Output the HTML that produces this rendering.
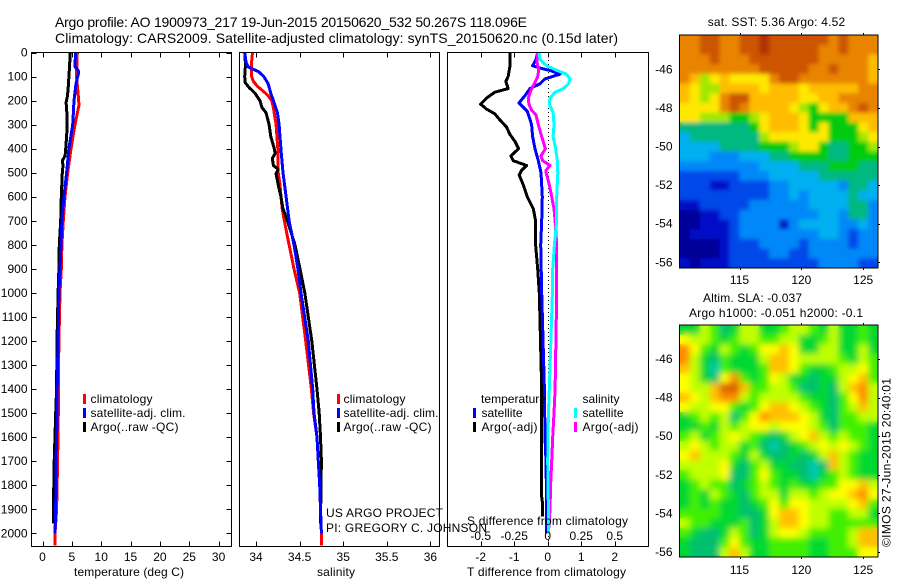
<!DOCTYPE html>
<html lang="en">
<head>
<meta charset="utf-8">
<title>Argo profile 1900973_217</title>
<style>
html,body{margin:0;padding:0;background:#fff;}
#fig{display:block;width:900px;height:580px;}
text{font-family:"Liberation Sans",Arial,sans-serif;font-size:12px;fill:#000;}
.title{font-size:14px;}
</style>
</head>
<body>
<svg id="fig" xmlns="http://www.w3.org/2000/svg" width="900" height="580" viewBox="0 0 900 580">
<rect x="0" y="0" width="900" height="580" fill="#fff"/>
<defs>
<clipPath id="clip-t"><rect x="32" y="52" width="199" height="494"/></clipPath>
<clipPath id="clip-s"><rect x="239" y="52" width="200" height="494"/></clipPath>
<clipPath id="clip-d"><rect x="448" y="52" width="200" height="494"/></clipPath>
<clipPath id="clip-m1"><rect x="680" y="35" width="198" height="233"/></clipPath>
<clipPath id="clip-m2"><rect x="680" y="325" width="198" height="232"/></clipPath>
<filter id="blur-a" x="-5%" y="-5%" width="110%" height="110%"><feGaussianBlur stdDeviation="2"/></filter>
<filter id="blur-b" x="-5%" y="-5%" width="110%" height="110%"><feGaussianBlur stdDeviation="3.2"/></filter>
</defs>
<text class="title" x="55" y="27" textLength="472">Argo profile: AO 1900973_217 19-Jun-2015 20150620_532 50.267S 118.096E</text>
<text class="title" x="55" y="43" textLength="563">Climatology: CARS2009. Satellite-adjusted climatology: synTS_20150620.nc (0.15d later)</text>
<g id="layer"></g>
<g>
<rect x="83" y="394" width="3" height="10" fill="#f00"/>
<text x="90.5" y="403" textLength="62">climatology</text>
<rect x="83" y="408" width="3" height="10" fill="#00f"/>
<text x="90.5" y="417" textLength="95">satellite-adj. clim.</text>
<rect x="83" y="422" width="3" height="10" fill="#000"/>
<text x="90.5" y="431" textLength="88">Argo(..raw -QC)</text>
</g>
<g>
<rect x="337" y="394" width="3" height="10" fill="#f00"/>
<text x="343.5" y="403" textLength="62">climatology</text>
<rect x="337" y="408" width="3" height="10" fill="#00f"/>
<text x="343.5" y="417" textLength="95">satellite-adj. clim.</text>
<rect x="337" y="422" width="3" height="10" fill="#000"/>
<text x="343.5" y="431" textLength="88">Argo(..raw -QC)</text>
</g>
<g>
<text x="481" y="403" textLength="65">temperature</text>
<rect x="473" y="408" width="3" height="10" fill="#00f"/>
<text x="481.5" y="417" textLength="41">satellite</text>
<rect x="473" y="422" width="3" height="10" fill="#000"/>
<text x="481.5" y="431" textLength="56">Argo(-adj)</text>
<text x="582.5" y="403" textLength="37">salinity</text>
<rect x="574" y="408" width="3" height="10" fill="#0ff"/>
<text x="582.5" y="417" textLength="41">satellite</text>
<rect x="574" y="422" width="3" height="10" fill="#f0f"/>
<text x="582.5" y="431" textLength="56">Argo(-adj)</text>
</g>
<text x="326" y="517" textLength="117">US ARGO PROJECT</text>
<text x="326" y="532" textLength="161">PI: GREGORY C. JOHNSON</text>
<text x="74" y="576" textLength="110">temperature (deg C)</text>
<text x="317" y="576" textLength="38">salinity</text>
<text x="467" y="576" textLength="159">T difference from climatology</text>
<text x="467" y="525" textLength="161">S difference from climatology</text>
<text x="707.7" y="26" textLength="137.5">sat. SST: 5.36 Argo: 4.52</text>
<text x="703" y="302" textLength="99">Altim. SLA: -0.037</text>
<text x="689" y="317" textLength="174">Argo h1000: -0.051 h2000: -0.1</text>
<text transform="translate(890.5,547) rotate(-90)" textLength="169">©IMOS 27-Jun-2015 20:40:01</text>
</svg>
<script>
// ---- axis ticks
const depthTicks = [0,100,200,300,400,500,600,700,800,900,1000,1100,1200,1300,1400,1500,1600,1700,1800,1900,2000];
const tempTicks = [0,5,10,15,20,25,30];
const salTicks = [34,34.5,35,35.5,36];
const tDiffTicks = [-2,-1,0,1,2];
const sDiffTicks = [-0.5,-0.25,0,0.25,0.5];
const sDiffTickLabels = ['-0.5','-0.25','0','0.25','0.5'];
const lonTicks = [115,120,125];
const latTicks = [-46,-48,-50,-52,-54,-56];

// ---- temperature profiles
const tempClimDepth = [0,100,200,220,300,400,500,600,700,800,900,1000,1200,1400,1500,1700,1900,2000,2050];
const tempClim = [5.93,5.8,6.16,6.2,5.54,4.85,4.29,3.83,3.55,3.3,3.2,2.98,2.8,2.7,2.7,2.58,2.4,2.13,2.13];
const tempArgoDepth = [0,60,140,180,210,225,300,350,400,430,450,470,500,600,700,800,900,1000,1200,1400,1500,1700,1900,1960];
const tempArgo = [4.74,4.6,4.4,4.26,4.0,4.1,4.2,4.1,3.95,3.85,3.37,3.5,3.37,3.2,3.1,2.86,2.8,2.65,2.47,2.4,2.25,2.0,1.85,1.85];
const tempSatDepth = [0,60,75,90,130,200,300,400,500,600,700,800,900,1000,1400,1500,1700,1900,2000];
const tempSat = [5.6,5.55,6.1,6.1,5.7,5.37,5.14,4.5,4.1,3.66,3.3,3.15,2.98,2.8,2.5,2.5,2.3,2.25,2.13];

// ---- salinity profiles
const salClimDepth = [0,40,60,100,120,140,160,180,200,230,300,400,450,500,550,600,650,700,800,900,1000,1200,1400,1500,1600,1700,1800,1900,2000,2050];
const salClim = [33.96,33.95,33.95,33.95,33.97,34.015,34.08,34.14,34.18,34.2,34.23,34.25,34.25,34.255,34.275,34.287,34.3,34.325,34.38,34.436,34.5,34.57,34.635,34.66,34.7,34.715,34.73,34.74,34.75,34.75];
const salArgoDepth = [0,50,100,125,145,170,200,230,250,300,350,400,420,440,470,485,505,550,600,650,700,800,900,1000,1200,1400,1500,1600,1700,1800,1960];
const salArgo = [33.87,33.88,33.87,33.875,33.92,33.99,34.045,34.07,34.115,34.15,34.17,34.21,34.22,34.187,34.2,34.255,34.23,34.255,34.285,34.31,34.36,34.447,34.505,34.56,34.64,34.7,34.725,34.74,34.75,34.745,34.74];
const salSatDepth = [0,40,60,70,80,100,130,170,200,250,300,400,500,600,700,800,900,1000,1200,1400,1500,1600,1700,1800,1900,2000];
const salSat = [33.87,33.885,33.91,33.97,34.03,34.09,34.14,34.17,34.2,34.245,34.265,34.285,34.31,34.345,34.38,34.436,34.48,34.516,34.6,34.65,34.665,34.7,34.715,34.73,34.74,34.75];

// ---- differences from climatology
const tDiffArgoDepth = [0,60,100,120,150,165,190,215,235,255,280,310,340,370,400,430,450,470,490,510,550,600,650,700,800,900,1000,1400,1500,1700,1850,1880,1930];
const tDiffArgo = [-1.12,-1.13,-1.18,-1.25,-1.18,-1.58,-1.83,-2.0,-1.83,-1.58,-1.43,-1.23,-1.13,-0.98,-0.87,-1.1,-1.03,-0.63,-0.78,-0.85,-0.73,-0.61,-0.43,-0.36,-0.36,-0.3,-0.25,-0.18,-0.18,-0.18,-0.18,-0.15,-0.15];
const tDiffSatDepth = [0,30,55,65,75,90,110,130,150,180,210,245,300,350,400,450,500,600,700,800,1000,1400,1600,1700,1900,2000];
const tDiffSat = [-0.3,-0.35,-0.45,-0.23,0.07,0.37,-0.08,-0.23,-0.53,-0.68,-0.86,-0.61,-0.48,-0.45,-0.38,-0.28,-0.2,-0.16,-0.18,-0.21,-0.18,-0.1,-0.08,-0.05,-0.03,-0.03];
const sDiffArgoDepth = [0,40,75,100,125,150,190,215,240,260,300,350,400,430,450,470,490,500,550,600,650,700,800,1000,1400,1500,1600,1700,1800,1900,2000];
const sDiffArgo = [-0.075,-0.08,-0.067,-0.075,-0.095,-0.12,-0.145,-0.14,-0.12,-0.087,-0.07,-0.045,-0.017,-0.05,-0.037,0.017,-0.012,-0.012,0.012,0.03,0.047,0.055,0.067,0.067,0.055,0.047,0.037,0.03,0.022,0.017,0.005];
const sDiffSatDepth = [0,30,55,75,90,110,130,150,165,190,215,250,300,350,400,450,500,600,700,800,900,1000,1400,1500,1700,1900,2000];
const sDiffSat = [-0.065,-0.057,-0.01,0.07,0.14,0.167,0.155,0.117,0.055,0.017,0.012,0.04,0.047,0.04,0.06,0.072,0.075,0.067,0.067,0.05,0.037,0.035,0.012,0.005,0,0.005,0.005];

// ---- SST map cells (colour class per cell, north to south)
const sstGrid = [
[10,10,11,11,10,10,11,11,12,11,11,11,11,11,11,10,11,10,10,10],
[10,10,11,11,10,10,11,11,12,11,11,11,11,11,10,10,11,10,10,10],
[10,10,10,11,10,10,10,11,11,11,11,11,11,11,10,10,10,10,10,9],
[10,10,10,10,10,10,10,10,11,11,11,11,11,10,10,11,10,10,10,9],
[10,9,7,8,9,8,8,8,8,10,11,11,10,10,10,10,10,10,10,9],
[9,8,7,7,9,9,9,9,8,9,9,9,8,9,9,9,9,9,10,10],
[9,8,7,8,10,11,11,9,9,9,9,9,8,8,9,9,10,10,10,10],
[8,8,8,8,10,11,10,9,9,9,9,8,7,6,8,9,9,10,11,10],
[8,8,7,7,7,6,6,7,8,9,9,9,8,6,6,6,6,9,9,9],
[5,5,5,5,5,5,5,6,8,9,9,9,8,6,8,6,6,6,8,9],
[4,5,5,5,5,5,5,5,7,8,8,8,8,8,8,6,6,6,7,8],
[4,4,4,4,5,5,5,5,6,6,6,7,8,8,6,5,5,6,6,7],
[4,4,4,3,3,3,4,4,4,5,5,6,6,6,6,5,5,6,6,6],
[3,3,3,3,3,3,3,3,4,4,4,4,5,5,5,6,6,6,5,5],
[2,2,2,2,2,2,3,3,3,4,4,4,4,4,5,5,5,5,5,5],
[2,2,2,1,1,2,2,2,2,3,3,4,4,4,4,4,3,5,5,4],
[2,2,2,2,2,2,2,2,2,3,3,4,3,4,4,4,4,5,4,4],
[1,1,2,2,2,2,2,3,3,3,3,3,3,4,4,4,4,5,5,3],
[0,0,1,1,2,2,3,3,3,3,3,3,3,3,4,4,3,5,5,3],
[0,0,1,1,1,2,3,3,3,3,1,3,4,4,4,4,3,3,4,3],
[0,1,1,1,1,2,3,3,3,3,3,3,3,3,4,4,3,2,3,3],
[0,0,0,0,1,2,2,2,3,3,3,3,2,3,3,3,3,2,3,3],
[0,0,0,0,1,2,2,2,2,3,3,2,2,3,3,3,3,3,3,3],
[1,0,1,1,1,2,2,2,2,2,2,2,2,2,3,3,3,3,2,2]
];
const sstColors = ['#000098','#0010c8','#0048e8','#0088f8','#00b0f0','#00b880','#00cc10','#a0e800','#ffe800','#ffbc00','#e88400','#cc5400','#b03000'];

// ---- SLA map cells (colour class per cell, north to south)
const slaGrid = [
[2,2,4,3,1,2,4,4,2,2,3,4,4,3,2,4,2,2,3,2],
[5,4,4,3,2,3,4,4,3,3,4,4,2,2,3,4,2,2,3,2],
[7,5,3,2,4,3,2,3,5,5,6,5,2,2,4,4,2,2,4,2],
[7,4,2,1,3,2,2,2,4,6,6,5,4,4,4,4,3,2,4,3],
[6,4,2,0,3,2,2,2,3,6,6,5,3,2,2,3,4,4,5,3],
[5,4,2,1,5,7,3,2,3,5,4,2,2,1,2,2,4,5,6,3],
[5,4,4,6,8,8,6,3,3,4,4,3,1,1,2,1,4,6,7,4],
[6,5,4,6,7,7,4,3,4,4,4,4,3,2,2,1,3,5,7,4],
[5,4,4,5,5,3,2,3,5,6,6,5,4,3,2,1,3,4,6,4],
[2,3,4,3,4,1,3,5,7,6,6,6,5,4,2,1,3,3,4,4],
[2,2,3,2,4,3,4,5,5,4,5,5,5,4,3,1,3,3,3,2],
[3,4,2,3,4,5,4,3,2,1,2,4,5,6,4,3,4,3,3,2],
[4,5,4,3,4,4,2,3,1,0,1,2,3,4,5,4,5,4,3,2],
[5,6,4,4,4,3,2,4,2,1,1,2,1,2,4,6,4,3,2,2],
[4,4,4,4,5,2,1,3,4,2,2,1,1,0,1,6,4,3,2,2],
[3,4,4,4,5,1,1,3,5,3,2,2,1,0,2,3,4,3,2,2],
[2,3,4,3,3,1,2,3,4,3,2,3,2,2,3,3,5,5,6,4],
[2,3,2,4,3,2,1,3,4,4,2,4,4,3,4,5,5,6,7,5],
[2,3,2,3,2,2,1,2,3,5,3,5,5,4,4,4,4,5,6,3],
[3,3,3,3,2,2,1,1,2,5,6,6,5,4,4,3,3,4,4,2],
[4,3,3,2,2,2,3,1,2,4,6,6,5,4,4,3,3,3,3,3],
[3,2,1,1,2,4,3,1,2,4,5,5,4,3,3,3,3,4,6,6],
[2,1,1,1,3,5,3,2,2,3,3,3,3,2,2,3,3,4,6,6],
[2,1,1,1,4,6,4,2,2,3,3,3,3,2,2,3,3,3,5,5]
];
const slaColors = ['#00c8b0','#00c070','#00d830','#40f000','#c0ff00','#ffff00','#ffc000','#ff8c00','#d86000'];

const NS = 'http://www.w3.org/2000/svg';
const layer = document.getElementById('layer');

function make(tag, attrs, parent) {
  const el = document.createElementNS(NS, tag);
  for (const k in attrs) el.setAttribute(k, attrs[k]);
  (parent || layer).appendChild(el);
  return el;
}

// axis functions
function yDepth(d) { return 52.5 + 0.2404 * d; }
function xTemp(v) { return 42.5 + 5.87 * v; }
function xSal(v) { return 256 + 87.2 * (v - 34); }
function xTDiff(v) { return 547.7 + 33.5 * v; }
function xSDiff(v) { return 547.7 + 134 * v; }
function xLon(v) { return 739.5 + 12.37 * (v - 115); }
function yLat1(v) { return 69.3 + 19.3 * (-46 - v); }
function yLat2(v) { return 359 + 19.3 * (-46 - v); }

function drawProfile(depths, values, xFn, color, width, clip, name) {
  const pts = depths.map(function (d, i) { return xFn(values[i]).toFixed(1) + ',' + yDepth(d).toFixed(1); }).join(' ');
  const line = make('polyline', {points: pts, fill: 'none', stroke: color, 'stroke-width': width, 'stroke-linejoin': 'round', 'shape-rendering': 'crispEdges', 'clip-path': 'url(#' + clip + ')'});
  
  
}

function drawFrame(x0, x1, y0, y1, name) {
  const r = make('rect', {x: x0, y: y0, width: x1 - x0, height: y1 - y0, fill: 'none', stroke: '#000', 'stroke-width': 1, 'shape-rendering': 'crispEdges'});
  
  
}

function tick(x1, y1, x2, y2) {
  const t = make('line', {x1: x1, y1: y1, x2: x2, y2: y2, stroke: '#000', 'stroke-width': 1, 'shape-rendering': 'crispEdges'});
  
  
}

function label(x, y, txt, anchor) {
  const t = make('text', {x: x, y: y, 'text-anchor': anchor});
  t.textContent = txt;
  
  
}

function xAxis(ticks, labels, xFn, baseline, top, bottom) {
  ticks.forEach(function (v, i) {
    const x = Math.round(xFn(v)) + 0.5;
    tick(x, top, x, top + 5);
    tick(x, bottom, x, bottom - 5);
    label(xFn(v), baseline, labels[i], 'middle');
  });
}

function drawMap(grid, colors, x0, x1, y0, y1, clip, blur, id, name) {
  const g = make('g', {'clip-path': 'url(#' + clip + ')'});
  
  
  const cells = make('g', {id: id}, g);
  const rows = grid.length, cols = grid[0].length;
  const w = (x1 - x0) / cols, h = (y1 - y0) / rows;
  grid.forEach(function (row, r) {
    row.forEach(function (v, c) {
      const cell = make('rect', {x: (x0 + c * w).toFixed(2), y: (y0 + r * h).toFixed(2), width: (w + 0.5).toFixed(2), height: (h + 0.5).toFixed(2), fill: colors[v]}, cells);
      
      
    });
  });
  make('use', {href: '#' + id, filter: 'url(#' + blur + ')'}, g);
}

function drawMapAxes(x0, x1, y0, y1, yFn, xBaseline) {
  lonTicks.forEach(function (v) {
    const x = Math.round(xLon(v)) + 0.5;
    tick(x, y0 - 2, x, y0);
    tick(x, y1, x, y1 + 2);
    label(xLon(v), xBaseline, String(v), 'middle');
  });
  latTicks.forEach(function (v) {
    const y = Math.round(yFn(v)) + 0.5;
    tick(x1, y, x1 + 2, y);
    label(672.5, yFn(v) + 4, String(v), 'end');
  });
}

// temperature panel
drawProfile(tempClimDepth, tempClim, xTemp, '#f00', 3, 'clip-t', 'temperature-climatology-line');
drawProfile(tempArgoDepth, tempArgo, xTemp, '#000', 3, 'clip-t', 'temperature-argo-line');
drawProfile(tempSatDepth, tempSat, xTemp, '#00f', 3, 'clip-t', 'temperature-satellite-line');
drawFrame(31.5, 231.5, 52.5, 546.5, 'temperature-panel-frame');
depthTicks.forEach(function (d) {
  const y = Math.round(yDepth(d)) + 0.5;
  tick(31.5, y, 36.5, y);
  tick(226.5, y, 231.5, y);
  label(27.5, yDepth(d) + 4, String(d), 'end');
});
xAxis(tempTicks, tempTicks.map(String), xTemp, 561, 52.5, 546.5);

// salinity panel
drawProfile(salClimDepth, salClim, xSal, '#f00', 3, 'clip-s', 'salinity-climatology-line');
drawProfile(salArgoDepth, salArgo, xSal, '#000', 3, 'clip-s', 'salinity-argo-line');
drawProfile(salSatDepth, salSat, xSal, '#00f', 3, 'clip-s', 'salinity-satellite-line');
drawFrame(239.5, 439.5, 52.5, 546.5, 'salinity-panel-frame');
xAxis(salTicks, salTicks.map(String), xSal, 561, 52.5, 546.5);

// difference panel
const zeroLine = make('line', {x1: 548.5, y1: 52, x2: 548.5, y2: 546, stroke: '#000', 'stroke-width': 1, 'stroke-dasharray': '1 3', 'shape-rendering': 'crispEdges'});


drawProfile(tDiffArgoDepth, tDiffArgo, xTDiff, '#000', 3, 'clip-d', 't-difference-argo-line');
drawProfile(tDiffSatDepth, tDiffSat, xTDiff, '#00f', 3, 'clip-d', 't-difference-satellite-line');
drawProfile(sDiffArgoDepth, sDiffArgo, xSDiff, '#f0f', 3, 'clip-d', 's-difference-argo-line');
drawProfile(sDiffSatDepth, sDiffSat, xSDiff, '#0ff', 3, 'clip-d', 's-difference-satellite-line');
drawFrame(447.5, 648.5, 52.5, 546.5, 'difference-panel-frame');
xAxis(tDiffTicks, tDiffTicks.map(String), xTDiff, 561, 52.5, 546.5);
sDiffTicks.forEach(function (v, i) {
  label(xSDiff(v), 540, sDiffTickLabels[i], 'middle');
});

// maps
drawMap(sstGrid, sstColors, 680, 878, 35, 268, 'clip-m1', 'blur-a', 'sst-cells', 'sst-map');
drawFrame(679.5, 878, 35, 268, 'sst-map-frame');
drawMapAxes(679.5, 878, 35, 268, yLat1, 284);
drawMap(slaGrid, slaColors, 680, 878, 325, 557, 'clip-m2', 'blur-b', 'sla-cells', 'sla-map');
drawFrame(679.5, 878, 325, 557, 'sla-map-frame');
drawMapAxes(679.5, 878, 325, 557, yLat2, 574);
</script>
</body>
</html>
